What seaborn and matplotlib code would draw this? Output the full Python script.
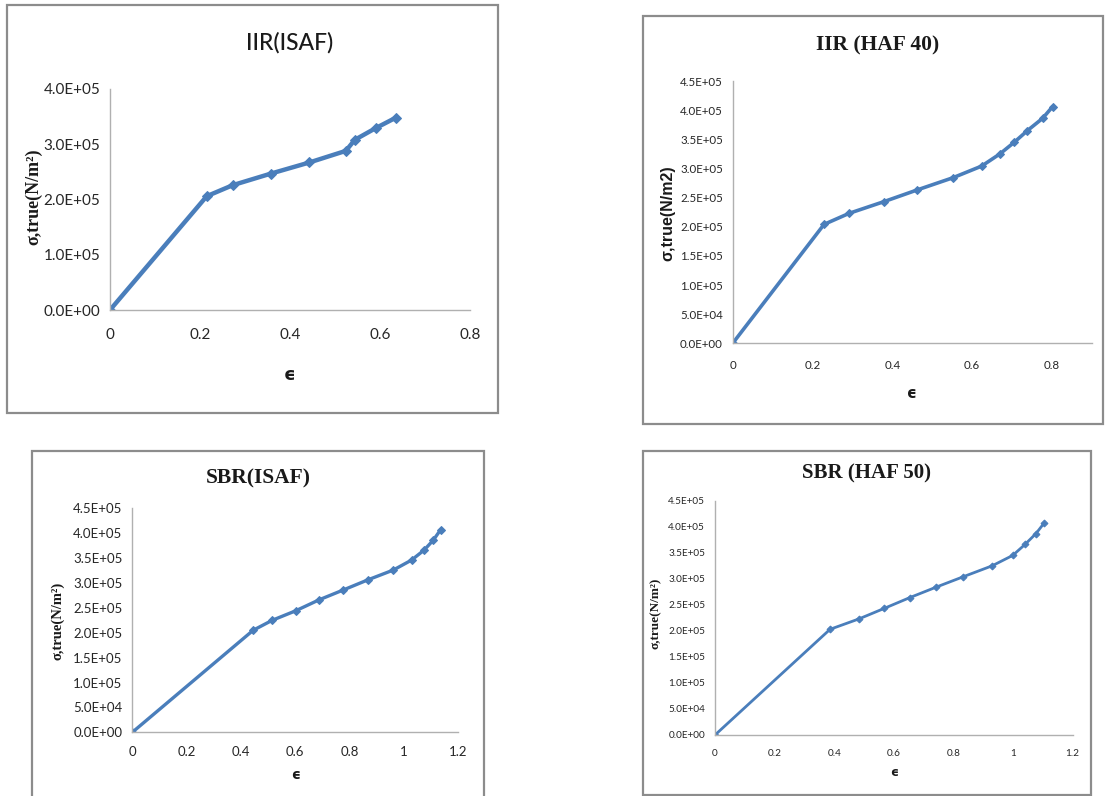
import matplotlib
matplotlib.use("Agg")
import matplotlib.pyplot as plt
from matplotlib.patches import Rectangle
from matplotlib.ticker import FixedLocator, FuncFormatter
import numpy as np
import pandas as pd
import seaborn as sns

# --- stress-strain data (true strain vs. true stress, N/m^2) ---
iir_isaf_strain = [0.0, 0.215, 0.273, 0.358, 0.443, 0.524, 0.544, 0.590, 0.635]
iir_isaf_stress = [0.0, 2.06e5, 2.26e5, 2.47e5, 2.67e5, 2.88e5, 3.08e5, 3.29e5, 3.48e5]

iir_haf40_strain = [0.0, 0.229, 0.292, 0.379, 0.462, 0.552, 0.624, 0.670, 0.706, 0.739, 0.777, 0.802]
iir_haf40_stress = [0.0, 2.04e5, 2.23e5, 2.43e5, 2.63e5, 2.84e5, 3.04e5, 3.25e5, 3.45e5, 3.65e5, 3.86e5, 4.06e5]

sbr_isaf_strain = [0.0, 0.445, 0.515, 0.601, 0.687, 0.777, 0.866, 0.961, 1.028, 1.074, 1.108, 1.135]
sbr_isaf_stress = [0.0, 2.05e5, 2.25e5, 2.44e5, 2.66e5, 2.86e5, 3.06e5, 3.26e5, 3.46e5, 3.66e5, 3.86e5, 4.07e5]

sbr_haf50_strain = [0.0, 0.386, 0.483, 0.567, 0.654, 0.742, 0.833, 0.930, 0.999, 1.040, 1.077, 1.104]
sbr_haf50_stress = [0.0, 2.03e5, 2.23e5, 2.43e5, 2.64e5, 2.84e5, 3.04e5, 3.25e5, 3.45e5, 3.66e5, 3.87e5, 4.07e5]

titles = ["IIR(ISAF)", "IIR (HAF 40)", "SBR(ISAF)", "SBR (HAF 50)"]
ylabels = ["σ,true(N/m²)", "σ,true(N/m2)", "σ,true(N/m²)", "σ,true(N/m²)"]
xlabel = "ϵ"

iir_isaf_yticks = [0, 1e5, 2e5, 3e5, 4e5]
half_step_yticks = [0, 5e4, 1e5, 1.5e5, 2e5, 2.5e5, 3e5, 3.5e5, 4e5, 4.5e5]
xticks_08 = [0, 0.2, 0.4, 0.6, 0.8]
xticks_12 = [0, 0.2, 0.4, 0.6, 0.8, 1.0, 1.2]

sns.set_style("white")
TICKFONT = ["Lato", "Liberation Sans", "DejaVu Sans"]
SERIF = ["Liberation Serif", "DejaVu Serif"]
plt.rcParams["font.family"] = TICKFONT

W, H = 1105, 796
fig = plt.figure(figsize=(W / 100, H / 100), dpi=100)
fig.patch.set_facecolor("white")

LINE = "#4a7ebb"
AXIS = "#b0b0b0"


def fx(px):
    return px / W


def fy(py):
    return 1 - py / H


def frame(x0, y0, x1, y1):
    # chart-area border
    fig.patches.append(Rectangle((fx(x0), fy(y1)), fx(x1 - x0), (y1 - y0) / H,
                                 transform=fig.transFigure, fill=False,
                                 edgecolor="#8c8c8c", linewidth=1.6, zorder=0))


def sci(v, _):
    if v == 0:
        return "0.0E+00"
    e = int(np.floor(np.log10(abs(v))))
    m = v / 10 ** e
    return f"{m:.1f}E+{e:02d}"


def xfmt(v, _):
    if abs(v) < 1e-9:
        return "0"
    if abs(v - round(v)) < 1e-9:
        return f"{int(round(v))}"
    return f"{v:.1f}"


def panel(box, xs, ys, xlim, ylim, xt, yt, tick_fs, lw, ms, xpad):
    x0, y0, x1, y1 = box  # axes pixel box: left, top, right, bottom
    ax = fig.add_axes([fx(x0), fy(y1), fx(x1 - x0), (y1 - y0) / H])
    df = pd.DataFrame({"strain": xs, "stress": ys})
    sns.lineplot(data=df, x="strain", y="stress", ax=ax, color=LINE,
                 linewidth=lw, marker="D", markersize=ms,
                 markeredgecolor=LINE, sort=False, estimator=None)
    ax.set_xlim(*xlim)
    ax.set_ylim(*ylim)
    ax.xaxis.set_major_locator(FixedLocator(xt))
    ax.yaxis.set_major_locator(FixedLocator(yt))
    ax.xaxis.set_major_formatter(FuncFormatter(xfmt))
    ax.yaxis.set_major_formatter(FuncFormatter(sci))
    ax.set_xlabel("")
    ax.set_ylabel("")
    for s in ["top", "right"]:
        ax.spines[s].set_visible(False)
    for s in ["left", "bottom"]:
        ax.spines[s].set_color(AXIS)
        ax.spines[s].set_linewidth(1.0)
    ax.tick_params(axis="both", direction="out", length=5, width=1,
                   color=AXIS, labelsize=tick_fs, labelcolor="#262626")
    ax.tick_params(axis="y", pad=2)
    ax.tick_params(axis="x", pad=xpad)
    ax.set_facecolor("none")
    for lab in ax.get_xticklabels() + ax.get_yticklabels():
        lab.set_family(TICKFONT)
    return ax


# panel frames
frame(7, 5, 498, 413)
frame(643, 16, 1103, 424)
frame(32, 451, 484, 800)
frame(643, 451, 1091, 795)

# IIR(ISAF)
panel((110, 89, 470, 310), iir_isaf_strain, iir_isaf_stress, (0, 0.8), (0, 4e5),
      xticks_08, iir_isaf_yticks, 11, 3.2, 5, 8)
# IIR (HAF 40)
panel((732.7, 81, 1091.7, 343.3), iir_haf40_strain, iir_haf40_stress, (0, 0.9), (0, 4.5e5),
      xticks_08, half_step_yticks, 8.3, 2.6, 4, 7)
# SBR(ISAF)
panel((132.3, 508.3, 458.3, 732.3), sbr_isaf_strain, sbr_isaf_stress, (0, 1.2), (0, 4.5e5),
      xticks_12, half_step_yticks, 9.5, 2.4, 4, 5)
# SBR (HAF 50)
panel((715, 500.7, 1072.7, 735), sbr_haf50_strain, sbr_haf50_stress, (0, 1.2), (0, 4.5e5),
      xticks_12, half_step_yticks, 7.2, 2.0, 3.5, 5)

# titles
fig.text(fx(290), fy(43), titles[0], ha="center", va="center", fontsize=16.5,
         family=TICKFONT, fontweight="medium", color="#1a1a1a")
fig.text(fx(878), fy(45), titles[1], ha="center", va="center", fontsize=15.5,
         family=SERIF, fontweight="bold", color="#1a1a1a")
fig.text(fx(258), fy(478), titles[2], ha="center", va="center", fontsize=15.5,
         family=SERIF, fontweight="bold", color="#1a1a1a")
fig.text(fx(867), fy(473), titles[3], ha="center", va="center", fontsize=15,
         family=SERIF, fontweight="bold", color="#1a1a1a")

# y-axis labels
fig.text(fx(34), fy(197), ylabels[0], rotation=90, ha="center", va="center",
         fontsize=13, family=SERIF, fontweight="bold", color="#1a1a1a")
fig.text(fx(668), fy(213), ylabels[1], rotation=90, ha="center", va="center",
         fontsize=11.5, family=["Liberation Sans", "DejaVu Sans"], fontweight="bold",
         color="#1a1a1a")
fig.text(fx(58), fy(621), ylabels[2], rotation=90, ha="center", va="center",
         fontsize=10.5, family=SERIF, fontweight="bold", color="#1a1a1a")
fig.text(fx(656), fy(613), ylabels[3], rotation=90, ha="center", va="center",
         fontsize=9.5, family=SERIF, fontweight="bold", color="#1a1a1a")

# x-axis labels
for (px, py, fs) in [(290, 375, 13), (912, 393, 11), (296, 775, 10), (894, 773, 9)]:
    fig.text(fx(px), fy(py), xlabel, ha="center", va="center", fontsize=fs,
             family=["DejaVu Sans"], fontweight="bold", color="#1a1a1a")

fig.savefig("out.png", dpi=100, facecolor="white")
